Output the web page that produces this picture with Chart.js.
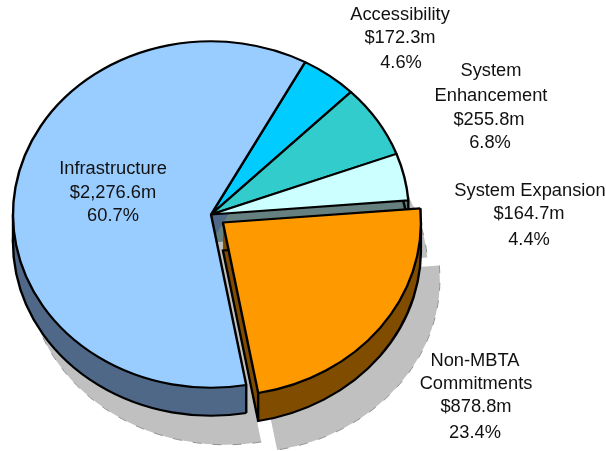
<!DOCTYPE html>
<html>
<head>
<meta charset="utf-8">
<style>html,body{margin:0;padding:0;background:#fff}canvas{display:block}</style>
<script src="https://cdn.jsdelivr.net/npm/chart.js@4"></script>
</head>
<body>
<canvas id="c" width="606" height="451"></canvas>
<script>
const categories = ['Accessibility', 'System Enhancement', 'System Expansion', 'Non-MBTA Commitments', 'Infrastructure'];
const amounts = [172.3, 255.8, 164.7, 878.8, 2276.6];
const amountLabels = ['$172.3m', '$255.8m', '$164.7m', '$878.8m', '$2,276.6m'];
const percentLabels = ['4.6%', '6.8%', '4.4%', '23.4%', '60.7%'];
const topColors = ['#00CCFF', '#33CCCC', '#CCFFFF', '#FF9900', '#99CCFF'];
const sideColors = ['#006680', '#1A6666', '#668080', '#804D00', '#4F6888'];
const categoryLines = [['Accessibility'], ['System', 'Enhancement'], ['System Expansion'], ['Non-MBTA', 'Commitments'], ['Infrastructure']];

const TILT = 0.875, DEPTH = 28, SHADOW_Y = 57, EXPLODED = 3, LINE = 2.4;
const shadowX = [19, 19, 19, 19, 15];
const labelPlacement = [
  {x: [400, 400, 401], y: [15, 38, 63]},
  {x: [491, 491, 489, 490], y: [71, 96, 120, 143]},
  {x: [530, 529, 529], y: [191, 214, 240]},
  {x: [475, 476, 476, 475], y: [361, 384, 407, 433]},
  {x: [113, 113, 113], y: [169, 193, 216]}
];

function arcCentre(a) {
  const mid = (a.startAngle + a.endAngle) / 2, off = (a.options.offset || 0) / 4;
  return {x: a.x + Math.cos(mid) * off, y: a.y + Math.sin(mid) * off};
}
function tilted(ctx, a, dx, dy, fn) {
  ctx.save();
  ctx.translate(a.x + dx, a.y + dy);
  ctx.scale(1, TILT);
  ctx.translate(-a.x, -a.y);
  fn();
  ctx.restore();
}
function sector(ctx, a) {
  const c = arcCentre(a);
  ctx.beginPath();
  ctx.moveTo(c.x, c.y);
  ctx.arc(c.x, c.y, a.outerRadius, a.startAngle, a.endAngle);
  ctx.closePath();
}
function outerEdge(ctx, a) {
  const c = arcCentre(a);
  ctx.beginPath();
  ctx.arc(c.x, c.y, a.outerRadius, a.startAngle, a.endAngle);
}
function verticalAt(ctx, a, ang) {
  const c = arcCentre(a);
  const x = c.x + Math.cos(ang) * a.outerRadius;
  const y = a.y + (c.y + Math.sin(ang) * a.outerRadius - a.y) * TILT;
  ctx.beginPath();
  ctx.moveTo(x, y);
  ctx.lineTo(x, y + DEPTH);
  ctx.stroke();
}
const pie3d = {
  id: 'pie3d',
  beforeDatasetsDraw(chart) {
    const ctx = chart.ctx, arcs = chart.getDatasetMeta(0).data;
    // drop shadow
    arcs.forEach((a, i) => tilted(ctx, a, shadowX[i], SHADOW_Y, () => {
      ctx.fillStyle = '#C0C0C0';
      sector(ctx, a);
      ctx.fill();
      ctx.save();
      ctx.setLineDash([9, 11]);
      ctx.strokeStyle = '#8C8C8C';
      ctx.lineWidth = 1;
      outerEdge(ctx, a);
      ctx.stroke();
      ctx.restore();
    }));
    // side walls, exploded slice last
    [0, 1, 2, 4, 3].forEach(i => {
      const a = arcs[i];
      ctx.fillStyle = sideColors[i];
      for (let d = 0; d <= DEPTH; d++) {
        tilted(ctx, a, 0, d, () => { sector(ctx, a); ctx.fill(); });
      }
      ctx.strokeStyle = '#000';
      ctx.lineWidth = LINE;
      tilted(ctx, a, 0, DEPTH, () => {
        if (i === EXPLODED) sector(ctx, a); else outerEdge(ctx, a);
        ctx.stroke();
      });
      verticalAt(ctx, a, a.startAngle);
      verticalAt(ctx, a, a.endAngle);
      [0, Math.PI, 2 * Math.PI].forEach(e => {
        if (a.startAngle < e && a.endAngle > e) verticalAt(ctx, a, e);
      });
    });
  },
  beforeDatasetDraw(chart) {
    const ctx = chart.ctx, a = chart.getDatasetMeta(0).data[0];
    ctx.save();
    ctx.translate(a.x, a.y);
    ctx.scale(1, TILT);
    ctx.translate(-a.x, -a.y);
  },
  afterDatasetDraw(chart) {
    chart.ctx.restore();
  },
  afterDraw(chart) {
    const ctx = chart.ctx;
    ctx.save();
    ctx.font = '18.3px "Liberation Sans", Arial, sans-serif';
    ctx.fillStyle = '#111';
    ctx.textAlign = 'center';
    ctx.textBaseline = 'middle';
    categories.forEach((_, i) => {
      const lines = [...categoryLines[i], amountLabels[i], percentLabels[i]];
      lines.forEach((t, j) => ctx.fillText(t, labelPlacement[i].x[j], labelPlacement[i].y[j]));
    });
    ctx.restore();
  }
};
new Chart(document.getElementById('c'), {
  type: 'pie',
  data: {
    labels: categories,
    datasets: [{
      data: amounts,
      backgroundColor: topColors,
      borderColor: '#000',
      borderWidth: LINE,
      offset: [0, 0, 0, 60, 0],
      clip: false
    }]
  },
  options: {
    responsive: false,
    animation: false,
    rotation: 28.4,
    radius: 198,
    layout: {padding: {left: 0, right: 184, top: 0, bottom: 22}},
    plugins: {legend: {display: false}, tooltip: {enabled: false}},
    events: []
  },
  plugins: [pie3d]
});
</script>
</body>
</html>
